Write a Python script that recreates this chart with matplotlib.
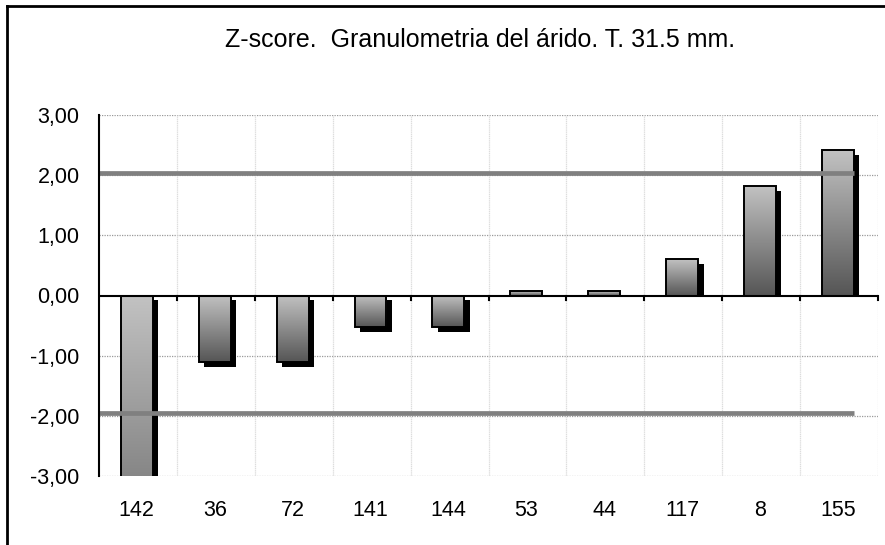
import numpy as np
import matplotlib
matplotlib.use("Agg")
import matplotlib.pyplot as plt
from matplotlib.lines import Line2D
from matplotlib.colors import LinearSegmentedColormap

categories = ["142", "36", "72", "141", "144", "53", "44", "117", "8", "155"]
zscores = [-5.5, -1.11, -1.11, -0.53, -0.53, 0.07, 0.07, 0.60, 1.82, 2.42]
upper_limit = 2.04
lower_limit = -1.96
yticks = [-3, -2, -1, 0, 1, 2, 3]
title = "Z-score.  Granulometria del árido. T. 31.5 mm."

plt.rcParams['font.family'] = ['Liberation Sans', 'DejaVu Sans']

fig = plt.figure(figsize=(8.85, 5.45), dpi=100)
ax = fig.add_axes([99/885, 1-476/545, (878-99)/885, (476-115)/545])

n = len(categories)
x = np.arange(n)
ax.set_xlim(-0.5, n - 0.5)
ax.set_ylim(-3, 3)

# grid
for yv in yticks:
    if yv != 0:
        ax.axhline(yv, color='#9a9a9a', lw=0.9, ls=(0, (1, 1)), zorder=0.5)
for b in np.arange(0.5, n, 1.0):
    ax.axvline(b, color='#dddddd', lw=0.9, ls=(0, (1, 0.5)), zorder=0.5)

w = 0.41
xoff = 5.5/77.9
yoff = 5/60.2
cmap = LinearSegmentedColormap.from_list('g', ['#c2c2c2', '#555555'])
grad = np.linspace(0, 1, 256).reshape(-1, 1)

# shadows
for xi, v in zip(x, zscores):
    if v >= 0:
        ax.bar(xi - 0.015 + xoff, v - yoff, bottom=0, width=w, color='black', zorder=2, linewidth=0)
    else:
        ax.bar(xi - 0.015 + xoff, v, bottom=-yoff, width=w, color='black', zorder=2, linewidth=0)

# gradient bars
for xi, v in zip(x, zscores):
    lo, hi = min(0, v), max(0, v)
    ax.imshow(grad, cmap=cmap, aspect='auto', origin='upper',
              extent=[xi - 0.015 - w/2, xi - 0.015 + w/2, lo, hi], zorder=3,
              interpolation='bilinear')
ax.bar(x - 0.015, zscores, width=w, fill=False, edgecolor='black', linewidth=1.4, zorder=4)
ax.set_xlim(-0.5, n - 0.5)
ax.set_ylim(-3, 3)

# limit lines
ax.plot([-0.5, x[-1] - 0.015 + w/2], [upper_limit, upper_limit], color='#808080', lw=3.4, zorder=5, solid_capstyle='butt')
ax.plot([-0.5, x[-1] - 0.015 + w/2], [lower_limit, lower_limit], color='#808080', lw=3.4, zorder=5, solid_capstyle='butt')

# zero axis and boundary ticks
ax.axhline(0, color='black', lw=1.5, zorder=6)
for b in np.arange(0.5, n + 0.5, 1.0):
    ax.plot([b, b], [0, -0.08], color='black', lw=1.5, zorder=6, clip_on=False)

for s in ['top', 'right', 'bottom']:
    ax.spines[s].set_visible(False)
ax.spines['left'].set_linewidth(1.5)
ax.spines['left'].set_zorder(7)

ax.set_yticks(yticks)
ax.set_yticklabels([f"{v:.2f}".replace('.', ',') for v in yticks], fontsize=15.5)
ax.tick_params(axis='y', length=0, pad=14)
ax.set_xticks(x - 0.015)
ax.set_xticklabels(categories, fontsize=15.5)
ax.tick_params(axis='x', length=0, pad=17)

fig.text(0.542, 1 - 40/545, title, ha='center', va='center', fontsize=18)

# chart border (top & left)
fig.add_artist(Line2D([7/885, 1.0], [1 - 6/545, 1 - 6/545], color='black', lw=2, transform=fig.transFigure))
fig.add_artist(Line2D([7/885, 7/885], [0, 1 - 6/545], color='black', lw=2, transform=fig.transFigure))

fig.savefig('out.png', dpi=100)
